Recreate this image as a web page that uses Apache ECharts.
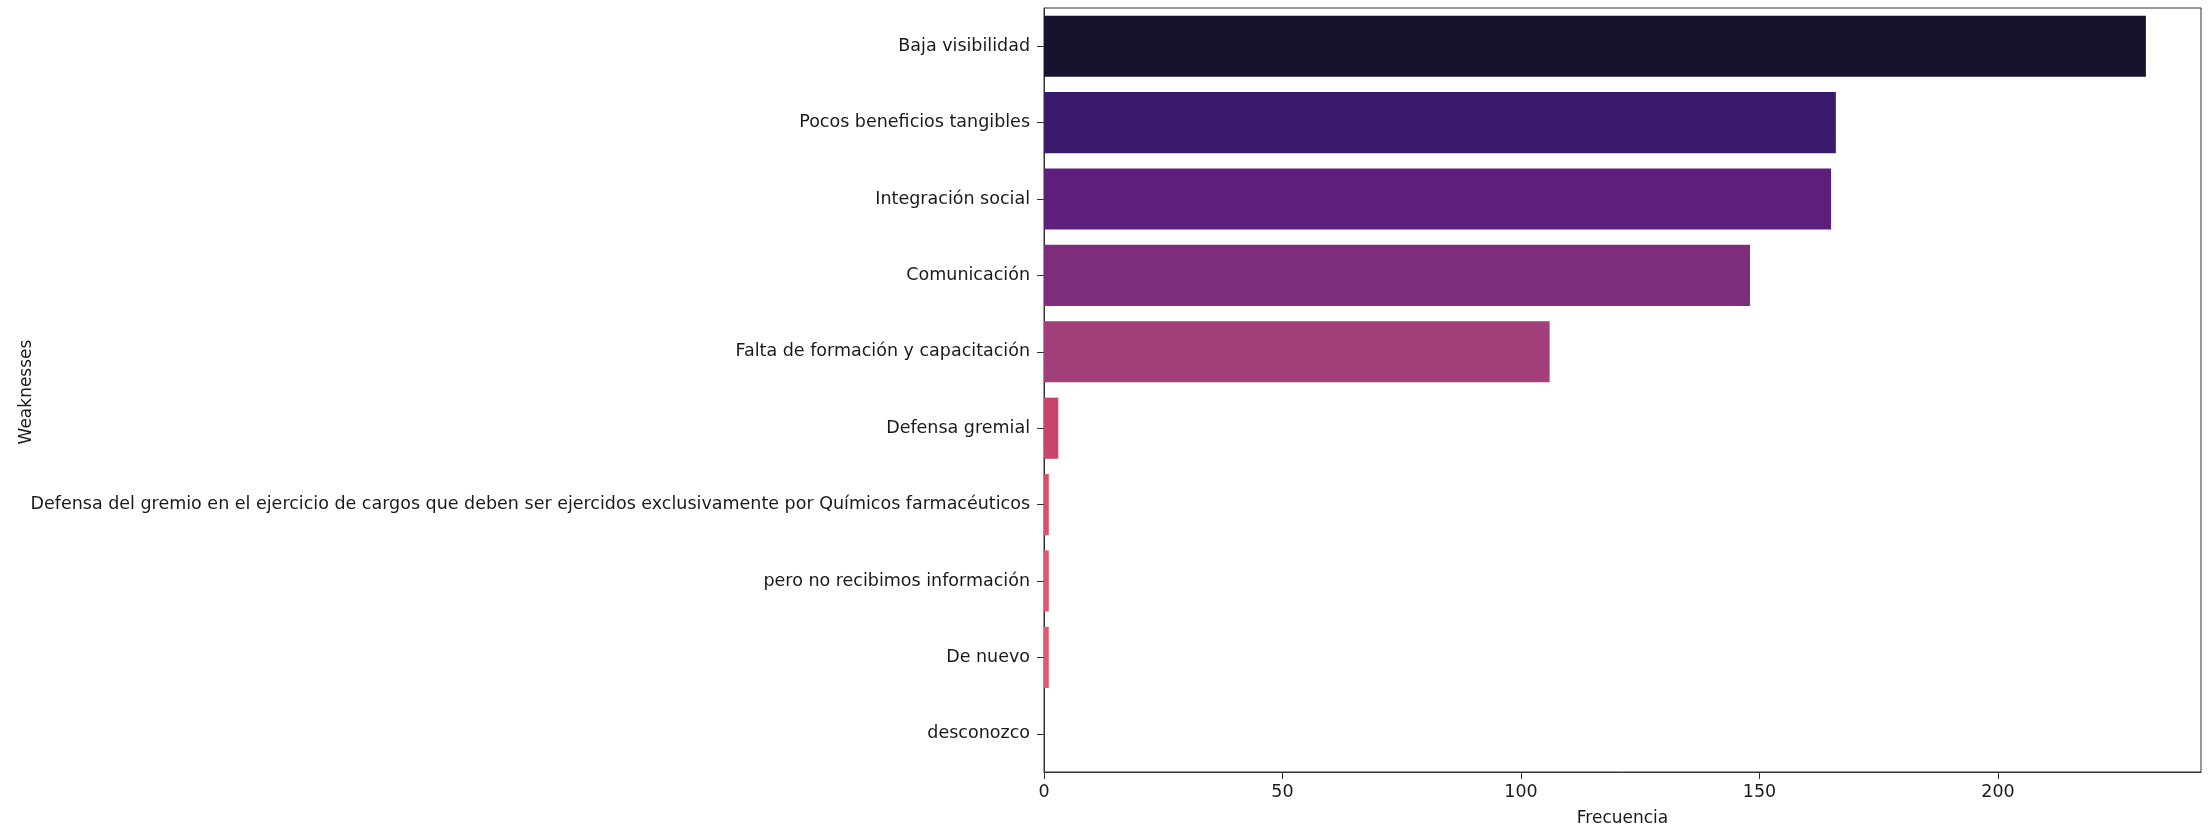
<!DOCTYPE html>
<html>
<head>
<meta charset="utf-8">
<script src="https://cdn.jsdelivr.net/npm/echarts@6/dist/echarts.min.js"></script>
<style>
html,body{margin:0;padding:0;background:#fff;}
#chart{width:2208px;height:832px;}
</style>
</head>
<body>
<div id="chart"></div>
<script>
const categories = [
  "Baja visibilidad",
  "Pocos beneficios tangibles",
  "Integración social",
  "Comunicación",
  "Falta de formación y capacitación",
  "Defensa gremial",
  "Defensa del gremio en el ejercicio de cargos que deben ser ejercidos exclusivamente por Químicos farmacéuticos",
  "pero no recibimos información",
  "De nuevo",
  "desconozco"
];
const frecuencia = [231, 166, 165, 148, 106, 3, 1, 1, 1, 0];
const barColors = ['#17132f', '#3a1a6a', '#5e1f7c', '#7e2c7c', '#a23f78', '#c8446c', '#dd4f66', '#e0556a', '#df5a6c', '#e8a080'];
const xTickInterval = 50;
const yAxisTitle = 'Weaknesses';

const chart = echarts.init(document.getElementById('chart'));
const font = 'DejaVu Sans';
chart.setOption({
  animation: false,
  backgroundColor: '#ffffff',
  grid: {
    left: 1044, right: 7, top: 8, bottom: 57,
    show: true, borderColor: '#333', borderWidth: 1, containLabel: false
  },
  graphic: [{
    type: 'text',
    x: 27, y: 392,
    rotation: Math.PI / 2,
    style: {
      text: yAxisTitle,
      fontFamily: font, fontSize: 17, fill: '#1a1a1a',
      textAlign: 'center', textVerticalAlign: 'middle'
    }
  }],
  xAxis: {
    type: 'value',
    min: 0,
    max: Math.max(...frecuencia) * 1.05,
    interval: xTickInterval,
    name: 'Frecuencia',
    nameLocation: 'middle',
    nameGap: 38,
    nameTextStyle: { fontFamily: font, fontSize: 17, color: '#1a1a1a' },
    axisLine: { show: true, lineStyle: { color: '#333', width: 1 } },
    axisTick: { show: true, length: 7, lineStyle: { color: '#333' } },
    axisLabel: { fontFamily: font, fontSize: 17.5, color: '#1a1a1a', margin: 11, showMaxLabel: false },
    splitLine: { show: false }
  },
  yAxis: {
    type: 'category',
    data: categories,
    inverse: true,
    axisLine: { show: true, lineStyle: { color: '#333', width: 1 } },
    axisTick: { show: true, length: 7, alignWithLabel: true, lineStyle: { color: '#333' } },
    axisLabel: { fontFamily: font, fontSize: 17.5, color: '#1a1a1a', margin: 14 },
    splitLine: { show: false }
  },
  series: [{
    type: 'bar',
    data: frecuencia.map((v, i) => ({ value: v, itemStyle: { color: barColors[i] } })),
    barCategoryGap: '20%'
  }]
});
</script>
</body>
</html>
